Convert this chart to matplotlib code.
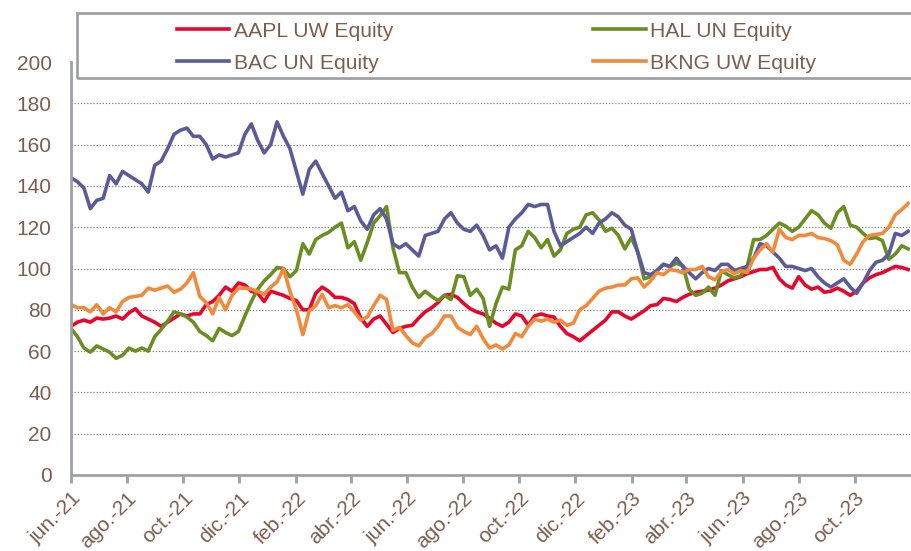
import numpy as np
import pandas as pd
import matplotlib
matplotlib.use('Agg')
import matplotlib.pyplot as plt
import matplotlib.dates as mdates
from matplotlib.patches import Rectangle

plt.rcParams['font.family'] = ['Liberation Sans', 'DejaVu Sans']

# weekly closes, rebased
dates = pd.date_range('2021-06-01', periods=131, freq='7D')

aapl = [72, 74, 75, 74, 76, 75.5, 76, 77, 75.5, 78.5, 80.5, 77, 75.5, 74, 72, 74, 76, 78, 77, 78,
        78, 82.5, 84, 87, 91, 89, 93, 92, 89, 88, 84, 89, 88, 87,
        85.5, 84.5, 80, 80, 88, 91, 89, 86, 86, 85, 83, 76, 72, 75.5, 77, 73, 69, 71, 72, 72.5,
        76, 79, 81, 83.5, 87, 87.5, 86, 83, 80.5, 79, 78, 76, 73.5,
        72, 74, 78, 77, 72.5, 77, 78, 77, 76.5, 72, 68.5, 67, 65, 67.5, 70, 72.5, 75, 79, 79, 77,
        75.5, 77.5, 79.5, 82, 82.5, 85.5, 85, 84, 86, 87.5, 88.5,
        89, 89.5, 90.5, 92, 94, 95, 96, 97.5, 98.5, 99.5, 99.5, 100.5, 95, 92, 90.5, 96, 92, 90,
        91, 88.5, 89, 90.5, 89, 87, 89, 93, 95.5, 97, 98, 99.5, 101, 100.5, 99.5]

hal = [71, 67, 61.5, 59.5, 62.5, 61, 59.5, 56.5, 58, 61.5, 60, 61.5, 60, 67, 70.5, 74.5, 79, 78,
       76.5, 74, 69.5, 67.5, 65, 71, 69, 67.5, 69.5, 77, 84, 90, 94, 97, 100.5, 100,
       96, 99, 112, 107, 114, 116, 117.5, 120, 122, 110, 113, 104, 112.5, 122, 125.5, 130, 110,
       98, 98, 91, 86, 89, 86.5, 84.5, 87, 85, 96.5, 96, 87, 90, 85.5, 72, 83,
       91, 90, 109, 111, 118, 115, 110, 114, 106, 109, 117, 119, 120, 126, 127, 123.5, 118,
       119.5, 116, 109.5, 115, 108, 95, 96, 99, 102, 101, 102.5, 101.5, 90, 87,
       88, 91, 87, 99, 97, 95.5, 96.5, 101, 114, 114, 116, 119, 122, 120.5, 118, 120, 124, 128,
       126, 122, 119.5, 127, 130, 121, 120, 117, 114.5, 115, 113.5, 104.5, 107, 111, 109.5]

bac = [144, 142, 139, 129, 133, 134, 145, 141, 147, 145, 143, 141, 137, 150, 152, 158, 165, 167,
       168, 164, 164, 160, 153, 155, 154, 155, 156, 165, 170, 162, 156, 160, 171, 164,
       158, 147, 136, 148, 152, 146, 140, 134, 137, 128, 130, 123, 119, 126, 129, 124, 112, 110,
       112, 109, 106, 116, 117, 118, 124, 127, 122, 119, 118, 121, 116, 109, 111,
       105, 120, 124, 127, 131, 130, 131, 131, 118, 111, 113, 115, 117, 120, 117, 122, 124, 127,
       125, 121, 119, 108, 98, 97, 99, 102, 101, 105, 101, 98, 95,
       98, 100, 99, 102, 102, 99, 100, 101, 105, 112, 111, 108, 105, 101, 101, 100, 99, 100, 96,
       93, 91, 93, 95, 91, 88, 93, 99, 103, 104, 107, 117, 116, 118]

bkng = [82.5, 81, 81, 79, 82.5, 78, 81, 79, 84, 86, 86.5, 87, 90.5, 89.5, 90.5, 91.5, 88.5, 90,
        93, 98, 86.5, 83.5, 78, 86, 80, 87, 90.5, 90.5, 90, 89, 87.5, 91, 93.5, 100,
        89, 80, 68, 79.5, 82, 87.5, 81, 82, 81, 82.5, 79, 75, 76.5, 82, 87, 85, 70, 71.5, 67.5,
        64, 62.5, 66.5, 68.5, 72, 77, 77, 71.5, 69.5, 68, 72, 66, 61.5, 63,
        61, 63, 68.5, 67, 72, 75.5, 74.5, 75.5, 74, 75, 72.5, 73.5, 80, 82, 85.5, 89, 90.5, 91,
        92, 92, 95, 95.5, 91, 94, 98, 97, 99.5, 99, 98, 99.5, 99.5,
        101, 96, 94.5, 98.5, 99.5, 97.5, 99, 98, 105, 109, 112, 108, 119, 115, 114, 116, 116,
        117, 115, 114.5, 113.5, 111.5, 104, 102, 107, 113, 116, 116.5, 117, 120, 126, 128.5, 131.5]

names = ['AAPL UW Equity', 'HAL UN Equity', 'BAC UN Equity', 'BKNG UW Equity']
colors = ['#E8062B', '#6B8E23', '#5B5A9B', '#F2893B']
txt = '#7D5E4E'
grey = '#A0A0A8'
meses = {2: 'feb.', 4: 'abr.', 6: 'jun.', 8: 'ago.', 10: 'oct.', 12: 'dic.'}

fig = plt.figure(figsize=(9.12, 5.51), dpi=100)
ax = fig.add_axes([71 / 912, 1 - 475 / 551, (910 - 71) / 912, (475 - 62) / 551])

lines = {}
for name, vals, c in zip(names, [aapl, hal, bac, bkng], colors):
    lines[name], = ax.plot(dates, vals, color=c, lw=2.6, label=name)

ax.set_ylim(0, 200)
ax.set_yticks(np.arange(0, 201, 20))
ax.set_xlim(dates[0], pd.Timestamp('2023-11-30'))
ax.xaxis.set_major_locator(mdates.MonthLocator(bymonth=[2, 4, 6, 8, 10, 12]))
ax.xaxis.set_major_formatter(plt.FuncFormatter(
    lambda x, pos: meses[mdates.num2date(x).month] + '-' + mdates.num2date(x).strftime('%y')))

ax.grid(axis='y', linestyle=(0, (1, 1.5)), color='#808080', lw=0.9)
ax.yaxis.get_gridlines()[-1].set_visible(False)
for s in ['top', 'right']:
    ax.spines[s].set_visible(False)
for s in ['left', 'bottom']:
    ax.spines[s].set_color(grey)
    ax.spines[s].set_linewidth(2)

ax.tick_params(axis='y', length=0, pad=14, labelsize=15, labelcolor=txt)
ax.tick_params(axis='x', length=6, width=2, color=grey, pad=4, labelsize=15, labelcolor=txt)
for lab in ax.get_xticklabels():
    lab.set_rotation(45)
    lab.set_ha('right')
    lab.set_va('top')
    lab.set_rotation_mode('anchor')

# legend box runs past the right edge of the figure
fig.add_artist(Rectangle((77 / 912, 1 - 78 / 551), (930 - 77) / 912, 65 / 551,
                         transform=fig.transFigure, fill=False, edgecolor=grey, lw=2,
                         clip_on=False))
order = ['AAPL UW Equity', 'BAC UN Equity', 'HAL UN Equity', 'BKNG UW Equity']
ax.legend([lines[n] for n in order], order, ncol=2, loc='upper left',
          bbox_to_anchor=(166 / 912, 1 - 11 / 551), bbox_transform=fig.transFigure,
          frameon=False, borderpad=0, handlelength=2.5, handletextpad=0.2,
          columnspacing=9.5, labelspacing=0.62, fontsize=15.2, labelcolor=txt)

fig.savefig('out.png', dpi=100)
